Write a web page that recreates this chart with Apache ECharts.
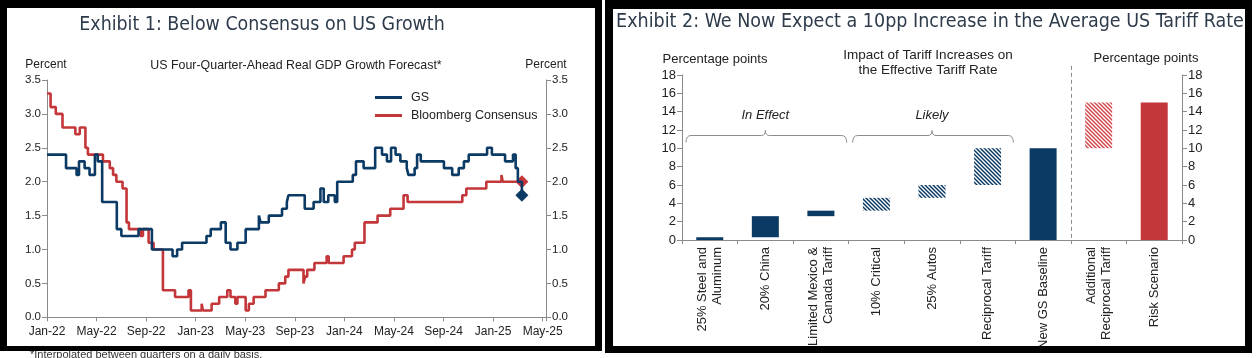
<!DOCTYPE html>
<html><head><meta charset="utf-8">
<script src="https://cdn.jsdelivr.net/npm/echarts@6/dist/echarts.min.js"></script>
<style>html,body{margin:0;padding:0;background:#fff;} #c{width:1257px;height:358px;}</style>
</head><body><div id="c"></div>
<script>
// ---------- Exhibit 1 data ----------
const gsDates = ['2022-01-01','2022-02-16','2022-03-13','2022-03-19','2022-04-02','2022-04-14','2022-04-27','2022-05-04','2022-05-15','2022-06-20','2022-07-01','2022-08-13','2022-09-15','2022-11-05','2022-11-16','2022-11-28','2023-01-28','2023-02-07','2023-03-02','2023-03-14','2023-03-26','2023-04-12','2023-05-02','2023-06-04','2023-06-08','2023-06-28','2023-07-31','2023-08-12','2023-08-16','2023-09-25','2023-10-17','2023-11-03','2023-11-11','2023-11-22','2023-12-08','2023-12-14','2024-01-22','2024-01-30','2024-02-17','2024-03-16','2024-04-02','2024-04-14','2024-04-24','2024-05-05','2024-05-17','2024-06-02','2024-06-06','2024-06-21','2024-06-27','2024-07-06','2024-09-02','2024-09-22','2024-10-08','2024-10-21','2024-11-02','2024-12-17','2024-12-29','2025-01-31','2025-02-18','2025-02-24','2025-03-01','2025-03-11'];
const gsValues = [2.4,2.2,2.1,2.3,2.2,2.1,2.4,2.3,1.7,1.3,1.2,1.3,1.0,0.9,1.0,1.1,1.2,1.3,1.4,1.1,1.0,1.1,1.3,1.5,1.4,1.5,1.6,1.7,1.8,1.6,1.7,1.9,1.7,1.8,1.7,2.0,2.1,2.3,2.2,2.5,2.4,2.3,2.5,2.4,2.3,2.2,2.1,2.2,2.4,2.3,2.2,2.1,2.2,2.3,2.4,2.5,2.4,2.3,2.4,2.2,2.0,1.8];
const bbgDates = ['2022-01-01','2022-01-10','2022-01-23','2022-02-08','2022-03-10','2022-03-21','2022-04-04','2022-04-10','2022-05-17','2022-06-03','2022-06-11','2022-06-19','2022-07-04','2022-07-14','2022-07-20','2022-08-18','2022-08-24','2022-09-07','2022-09-19','2022-10-12','2022-11-11','2022-12-14','2022-12-20','2023-01-16','2023-01-19','2023-02-09','2023-02-26','2023-03-18','2023-03-26','2023-04-07','2023-04-12','2023-05-02','2023-05-10','2023-05-22','2023-06-20','2023-07-23','2023-08-08','2023-08-16','2023-09-22','2023-09-26','2023-10-01','2023-10-19','2023-11-18','2023-11-23','2023-12-30','2024-01-20','2024-01-27','2024-02-19','2024-03-22','2024-04-22','2024-05-25','2024-06-04','2024-10-17','2024-10-27','2024-12-15','2025-01-22','2025-01-25','2025-03-11'];
const bbgValues = [3.3,3.1,3.0,2.8,2.7,2.8,2.5,2.4,2.3,2.2,2.1,2.0,1.9,1.4,1.3,1.2,1.3,1.1,1.0,0.4,0.3,0.4,0.1,0.2,0.1,0.2,0.3,0.4,0.3,0.2,0.3,0.1,0.2,0.3,0.4,0.5,0.6,0.7,0.5,0.6,0.7,0.8,0.9,0.8,0.9,1.0,1.1,1.4,1.5,1.6,1.8,1.7,1.8,1.9,2.0,2.1,2.0,2.0];
const latestDate = '2025-03-11';
const gsLatest = 1.8;
const bbgLatest = 2.0;
const monthNames = ['Jan','Feb','Mar','Apr','May','Jun','Jul','Aug','Sep','Oct','Nov','Dec'];

// ---------- Exhibit 2 data ----------
const tariffCategories = ['25% Steel and\nAluminum','20% China','Limited Mexico &\nCanada Tariff','10% Critical','25% Autos','Reciprocal Tariff','New GS Baseline','Additional\nReciprocal Tariff','Risk Scenario'];
const barLow  = [0, 0.3, 2.6, 3.2, 4.6, 6, 0, 10, 0];
const barHigh = [0.3, 2.6, 3.2, 4.6, 6, 10, 10, 15, 15];
const groupBrackets = [{label:'In Effect', from:0, to:2}, {label:'Likely', from:3, to:5}];

// ---------- helpers ----------
const F = "'Liberation Sans', Arial, sans-serif";
const TF = "'Liberation Sans Narrow','DejaVu Sans Condensed','Roboto', sans-serif";
const NAVY = '#0b3a64', RED = '#c3363a', AX = '#8a8a8a', TXT = '#222';
function toMonths(s){
  const [y,m,d] = s.split('-').map(Number);
  const dim = new Date(y, m, 0).getDate();
  return (y-2022)*12 + (m-1) + (d-1)/dim;
}
function pairs(ds, vs){ return ds.map((d,i)=>[toMonths(d), vs[i]]); }
function hatch(color){
  const cv = document.createElement('canvas'); cv.width = 4; cv.height = 4;
  const g = cv.getContext('2d');
  g.fillStyle = '#fff'; g.fillRect(0,0,4,4);
  g.strokeStyle = color; g.lineWidth = 1.5; g.beginPath();
  g.moveTo(-1,-1); g.lineTo(5,5); g.moveTo(-1,3); g.lineTo(1,5); g.moveTo(3,-1); g.lineTo(5,1);
  g.stroke();
  return {image: cv, repeat: 'repeat'};
}
const solidNavy = {color: NAVY}, hatchNavy = {color: hatch(NAVY)}, hatchRed = {color: hatch('#d24a4e')}, solidRed = {color: RED};
const styleFor = i => (i<=2 || i===6) ? solidNavy : (i<=5 ? hatchNavy : (i===7 ? hatchRed : solidRed));

const chart = echarts.init(document.getElementById('c'), null, {renderer:'canvas'});
const leftYAxis = (pos) => ({
  gridIndex:0, type:'value', position:pos, min:0, max:3.5, interval:0.5,
  axisLine:{show:true, lineStyle:{color:AX}}, axisTick:{show:true, length:5, lineStyle:{color:AX}},
  splitLine:{show:false},
  axisLabel:{color:TXT, fontFamily:F, fontSize:11.5, margin:6, formatter:v=>v.toFixed(1)}
});
const rightYAxis = (pos) => ({
  gridIndex:1, type:'value', position:pos, min:0, max:18, interval:2,
  axisLine:{show:true, lineStyle:{color:AX}}, axisTick:{show:true, length:5, lineStyle:{color:AX}},
  splitLine:{show:false},
  axisLabel:{color:TXT, fontFamily:F, fontSize:13, margin:6}
});

chart.setOption({
  animation:false,
  backgroundColor:'#fff',
  grid:[
    {left:47, top:80, width:499, height:237.3},
    {left:682, top:75, width:500, height:165}
  ],
  legend:{
    data:['GS','Bloomberg Consensus'], orient:'vertical', left:370, top:86,
    icon:'rect', itemWidth:27, itemHeight:3, itemGap:5,
    textStyle:{fontFamily:F, fontSize:12.5, color:TXT, padding:[0,0,0,4]}
  },
  xAxis:[
    {gridIndex:0, type:'value', min:0, max:40.27, interval:4,
     axisLine:{show:true, onZero:false, lineStyle:{color:AX}},
     axisTick:{show:true, length:4, lineStyle:{color:AX}},
     splitLine:{show:false}, showMaxLabel:false,
     axisLabel:{color:TXT, fontFamily:F, fontSize:12, margin:8,
       formatter:v=>{ if (Math.abs(v%4)>1e-6) return ''; return monthNames[v%12]+'-'+(22+Math.floor(v/12)); }}},
    {gridIndex:1, type:'category', data:tariffCategories,
     axisLine:{show:true, lineStyle:{color:AX}},
     axisTick:{show:true, length:4, interval:0, alignWithLabel:false, lineStyle:{color:AX}},
     axisLabel:{interval:0, rotate:90, color:TXT, fontFamily:F, fontSize:13, margin:7, lineHeight:15}}
  ],
  yAxis:[ leftYAxis('left'), leftYAxis('right'), rightYAxis('left'), rightYAxis('right') ],
  series:[
    {name:'Bloomberg Consensus', type:'line', step:'end', xAxisIndex:0, yAxisIndex:0,
     data:pairs(bbgDates,bbgValues), showSymbol:false, color:RED, lineStyle:{width:2.6, color:RED}},
    {name:'GS', type:'line', step:'end', xAxisIndex:0, yAxisIndex:0,
     data:pairs(gsDates,gsValues), showSymbol:false, color:NAVY, lineStyle:{width:2.6, color:NAVY}},
    {name:'latestBbg', type:'scatter', xAxisIndex:0, yAxisIndex:0, symbol:'diamond', symbolSize:13,
     data:[[toMonths(latestDate), bbgLatest]], itemStyle:{color:RED, opacity:1}},
    {name:'latestGs', type:'scatter', xAxisIndex:0, yAxisIndex:0, symbol:'diamond', symbolSize:13,
     data:[[toMonths(latestDate), gsLatest]], itemStyle:{color:NAVY, opacity:1}},
    {name:'base', type:'bar', stack:'w', xAxisIndex:1, yAxisIndex:2, barWidth:27, silent:true,
     data:barLow, itemStyle:{color:'rgba(0,0,0,0)'}},
    {name:'impact', type:'bar', stack:'w', xAxisIndex:1, yAxisIndex:2, barWidth:27,
     data:barHigh.map((h,i)=>({value:+(h-barLow[i]).toFixed(2), itemStyle:styleFor(i)}))}
  ]
});

// ---------- annotations (positions derived from axes) ----------
const p0 = chart.convertToPixel({xAxisIndex:1, yAxisIndex:2}, [0, 0]);
const p1 = chart.convertToPixel({xAxisIndex:1, yAxisIndex:2}, [1, 18]);
const bw = p1[0]-p0[0];
const yPx = v => p0[1] + (p1[1]-p0[1]) * v/18;
const edge = i => p0[0] + (i-0.5)*bw;
const graphics = [];
const ls = {stroke:'#8c8c8c', lineWidth:1, fill:null};
const bez = (a,b,c,d,e,f) => ({type:'bezierCurve', shape:{x1:a,y1:b,cpx1:c,cpy1:d,x2:e,y2:f}, style:ls});
const seg = (a,b,c,d) => ({type:'line', shape:{x1:a,y1:b,x2:c,y2:d}, style:ls});
groupBrackets.forEach(b=>{
  const x0 = edge(b.from)+4, x1 = edge(b.to+1)-2, xc = (edge(b.from)+edge(b.to+1))/2, y = Math.round(yPx(11.45))+0.5;
  graphics.push(
    bez(x0,y+7, x0,y, x0+5,y), seg(x0+5,y, xc-4,y), bez(xc-4,y, xc,y, xc,y-5),
    bez(xc,y-5, xc,y, xc+4,y), seg(xc+4,y, x1-5,y), bez(x1-5,y, x1,y, x1,y+7)
  );
  graphics.push({type:'text', style:{text:b.label, x:xc, y:yPx(13.6), align:'center', verticalAlign:'middle',
    font:'italic 13px '+F, fill:TXT}});
});
const xd = Math.round(edge(7))+0.5;
graphics.push({type:'line', shape:{x1:xd, y1:yPx(19), x2:xd, y2:yPx(0)}, style:{stroke:'#8c8c8c', lineWidth:1, lineDash:[4,3]}});

const txt = (t,x,y,font,fill,align) => ({type:'text', style:{text:t, x, y, align:align||'center', verticalAlign:'middle', font, fill}});
graphics.push(
  txt('Exhibit 1: Below Consensus on US Growth', 262, 25, '19.4px '+TF, '#2e3b4b'),
  txt('Exhibit 2: We Now Expect a 10pp Increase in the Average US Tariff Rate', 930, 22, '19.5px '+TF, '#2e3b4b'),
  txt('US Four-Quarter-Ahead Real GDP Growth Forecast*', 296, 66, '12.4px '+F, TXT),
  txt('Percent', 46, 65, '12px '+F, TXT),
  txt('Percent', 546, 65, '12px '+F, TXT),
  txt('Percentage points', 715, 59, '13px '+F, TXT),
  txt('Percentage points', 1146, 58, '13px '+F, TXT),
  txt('Impact of Tariff Increases on', 928, 55, '13.5px '+F, TXT),
  txt('the Effective Tariff Rate', 928, 70, '13.5px '+F, TXT),
  txt('*Interpolated between quarters on a daily basis.', 30, 355, '11px '+F, '#333', 'left')
);
// panel frames
const blk = (x,y,w,h) => ({type:'rect', z:100, shape:{x,y,width:w,height:h}, style:{fill:'#000'}});
graphics.push(
  blk(0,0,602,8), blk(0,346,602,5), blk(0,0,7,351), blk(595,0,7,351),
  blk(605,0,647,9), blk(605,346,647,7), blk(605,0,8,353), blk(1245,0,7,353)
);
chart.setOption({graphic:{elements:graphics}});
</script></body></html>
